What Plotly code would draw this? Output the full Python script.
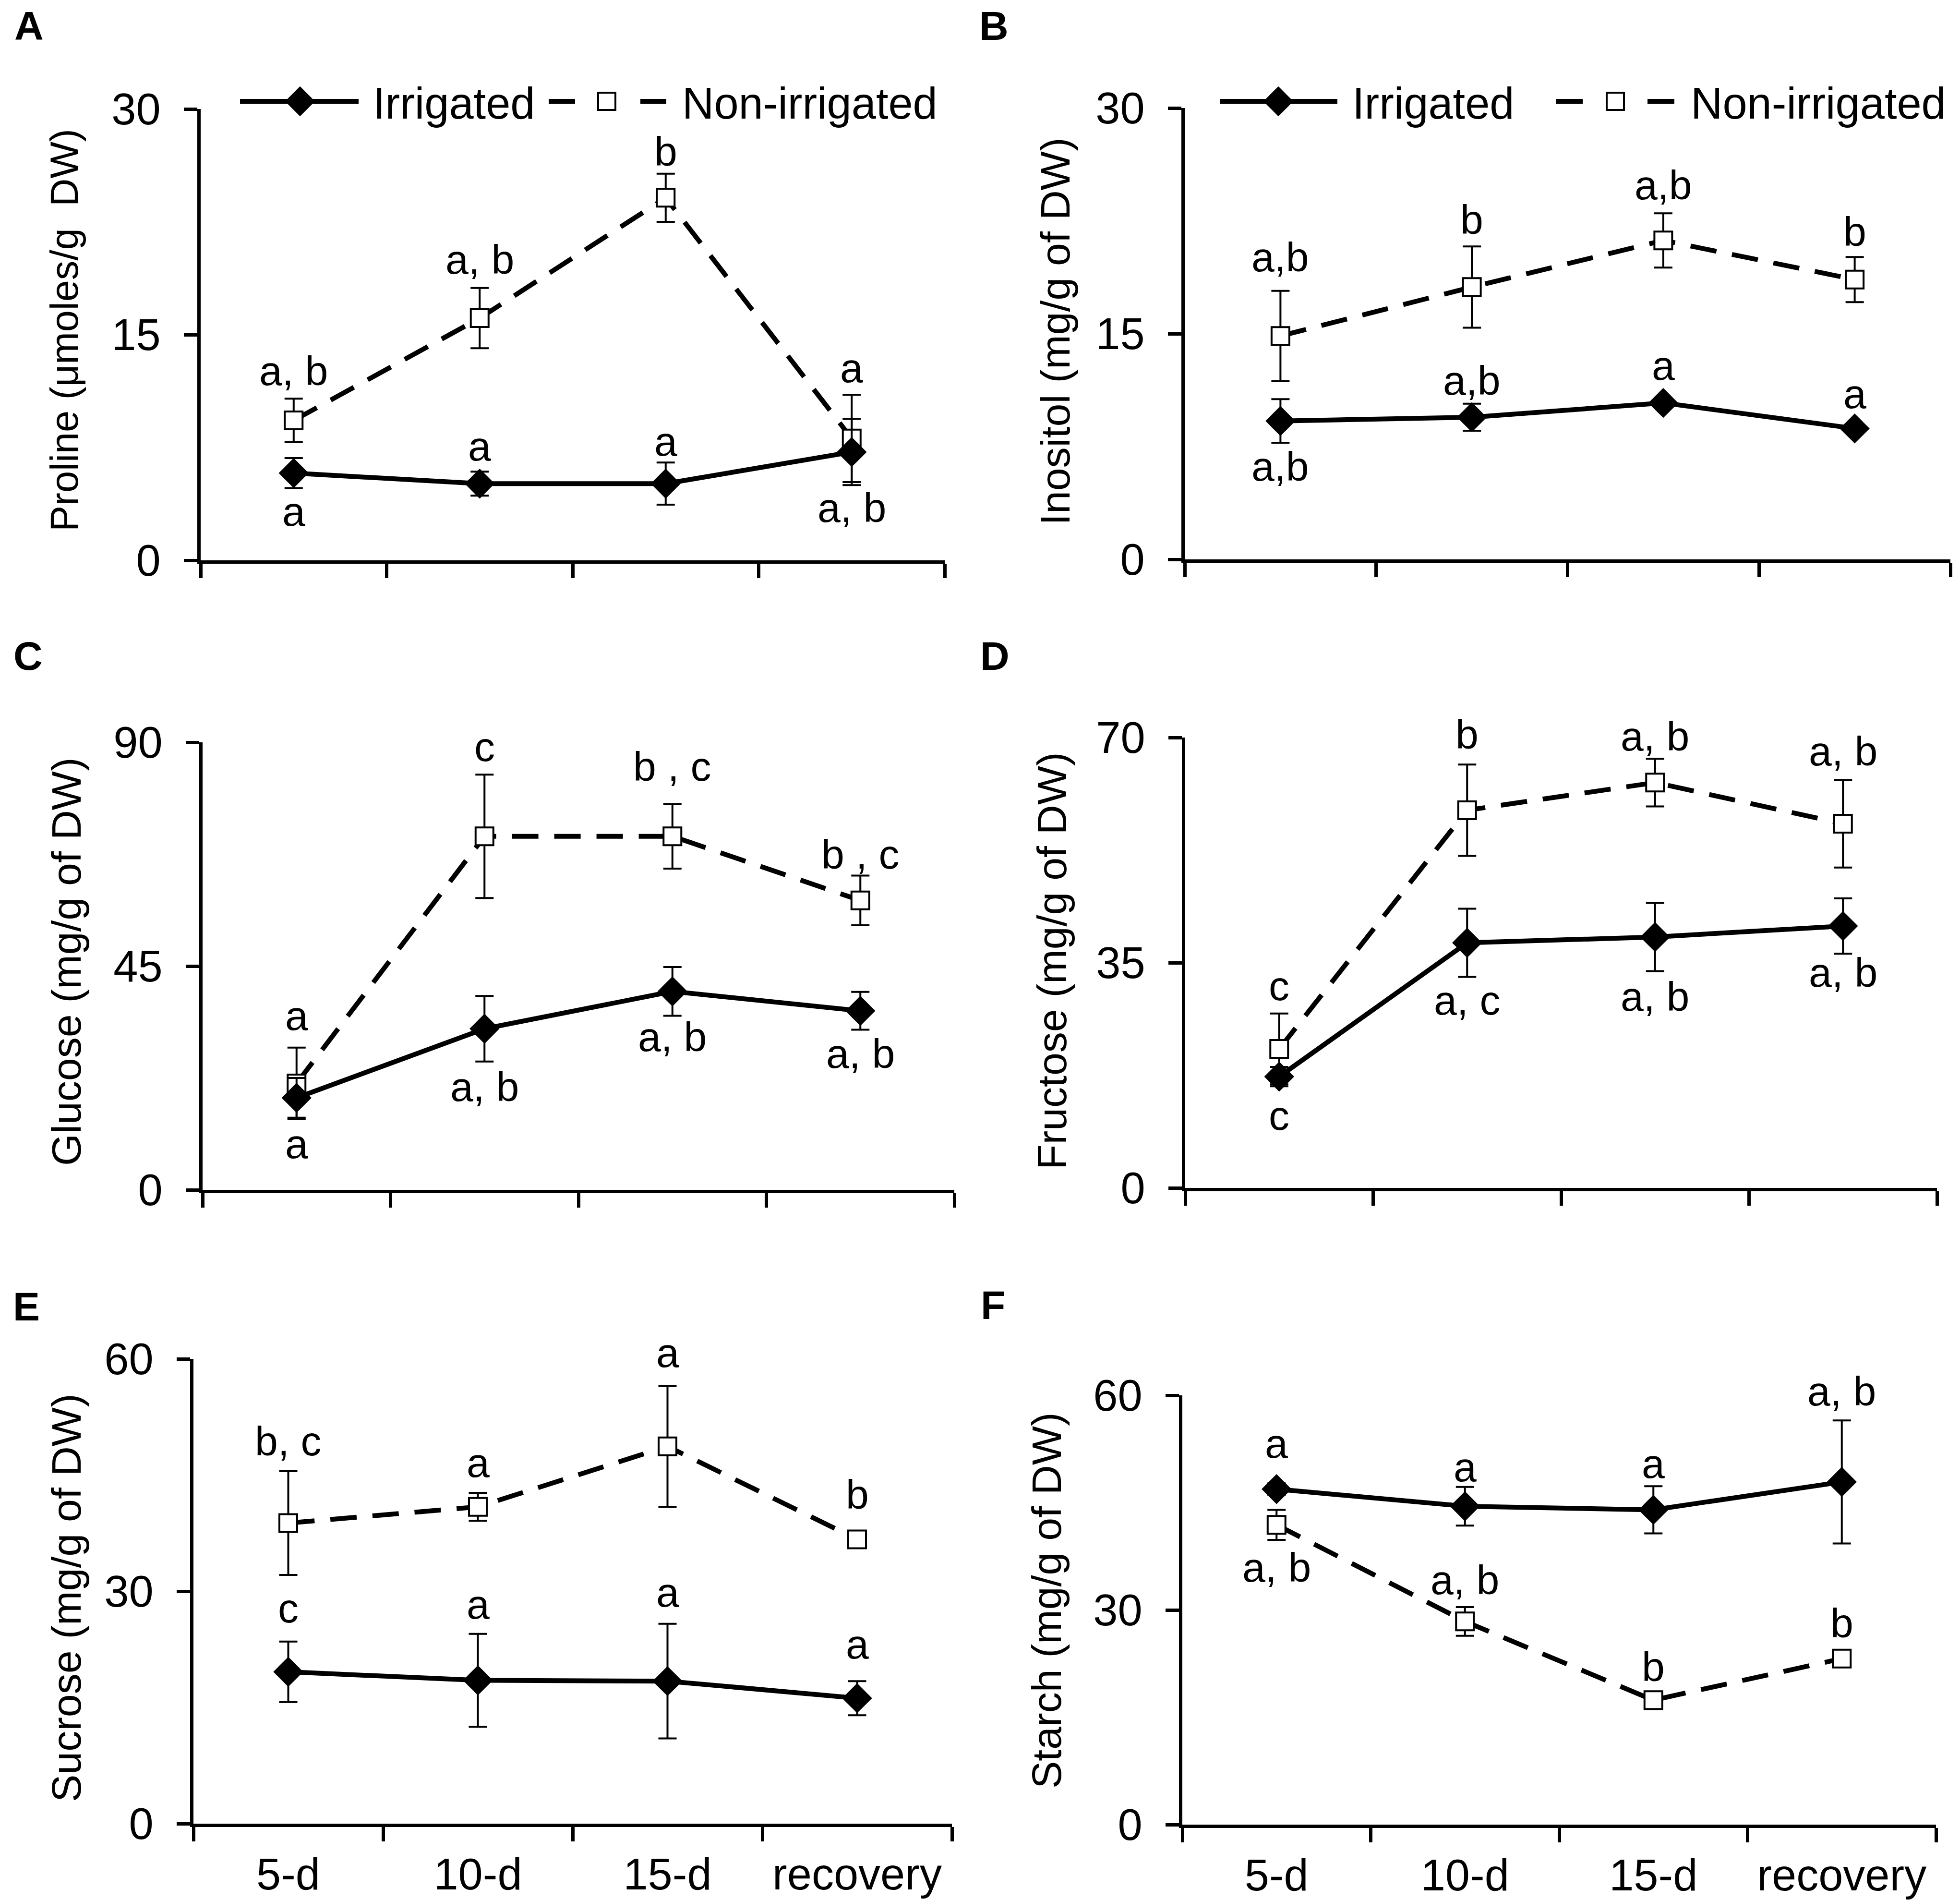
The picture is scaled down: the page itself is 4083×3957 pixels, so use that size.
import plotly.graph_objects as go

W, H = 4083, 3957
FONT = "Liberation Sans, Arial, sans-serif"

categories = ["5-d", "10-d", "15-d", "recovery"]

# ---------------- data ----------------
proline_irr = [5.8, 5.1, 5.1, 7.2]
proline_irr_err = [1.0, 0.8, 1.4, 2.2]
proline_non = [9.3, 16.1, 24.1, 8.1]
proline_non_err = [1.45, 2.0, 1.6, 2.9]
proline_irr_lbl = ["a", "a", "a", "a, b"]
proline_irr_lbl_y = [3.25, 7.6, 7.9, 3.5]
proline_non_lbl = ["a, b", "a, b", "b", "a"]
proline_non_lbl_y = [12.6, 20.0, 27.2, 12.8]

inositol_irr = [9.2, 9.45, 10.4, 8.7]
inositol_irr_err = [1.45, 0.9, 0.3, 0.3]
inositol_non = [14.85, 18.1, 21.2, 18.6]
inositol_non_err = [3.0, 2.7, 1.8, 1.5]
inositol_irr_lbl = ["a,b", "a,b", "a", "a"]
inositol_irr_lbl_y = [6.2, 11.9, 12.9, 11.0]
inositol_non_lbl = ["a,b", "b", "a,b", "b"]
inositol_non_lbl_y = [20.1, 22.6, 24.9, 21.8]

glucose_irr = [18.5, 32.4, 39.9, 36.0]
glucose_irr_err = [4.0, 6.6, 4.9, 3.8]
glucose_non = [21.4, 71.1, 71.1, 58.2]
glucose_non_err = [7.2, 12.4, 6.5, 5.0]
glucose_irr_lbl = ["a", "a, b", "a, b", "a, b"]
glucose_irr_lbl_y = [9.3, 20.8, 30.8, 27.4]
glucose_non_lbl = ["a", "c", "b , c", "b , c"]
glucose_non_lbl_y = [35.1, 89.1, 85.2, 67.5]

fructose_irr = [17.3, 38.1, 39.0, 40.7]
fructose_irr_err = [1.5, 5.3, 5.3, 4.3]
fructose_non = [21.6, 58.7, 63.0, 56.6]
fructose_non_err = [5.5, 7.1, 3.7, 6.8]
fructose_irr_lbl = ["c", "a, c", "a, b", "a, b"]
fructose_irr_lbl_y = [11.3, 29.2, 29.8, 33.5]
fructose_non_lbl = ["c", "b", "a, b", "a, b"]
fructose_non_lbl_y = [31.4, 70.5, 70.2, 67.9]

sucrose_irr = [19.6, 18.5, 18.4, 16.2]
sucrose_irr_err = [3.9, 6.0, 7.4, 2.2]
sucrose_non = [38.8, 40.9, 48.7, 36.7]
sucrose_non_err = [6.7, 1.8, 7.8, 0.8]
sucrose_irr_lbl = ["c", "a", "a", "a"]
sucrose_irr_lbl_y = [27.8, 28.3, 29.9, 23.2]
sucrose_non_lbl = ["b, c", "a", "a", "b"]
sucrose_non_lbl_y = [49.4, 46.6, 60.8, 42.5]

starch_irr = [46.9, 44.5, 44.0, 47.9]
starch_irr_err = [0.8, 2.7, 3.3, 8.6]
starch_non = [41.9, 28.4, 17.4, 23.2]
starch_non_err = [2.1, 2.0, 0.6, 0.6]
starch_irr_lbl = ["a", "a", "a", "a, b"]
starch_irr_lbl_y = [53.3, 50.0, 50.5, 60.6]
starch_non_lbl = ["a, b", "a, b", "b", "b"]
starch_non_lbl_y = [36.0, 34.2, 22.1, 28.2]

y_titles = ["Proline (\u03bcmoles/g \u00a0DW)", "Inositol (mg/g of DW)",
            "Glucose (mg/g of DW)", "Fructose (mg/g of DW)",
            "Sucrose (mg/g of DW)", "Starch (mg/g of DW)"]
y_max = [30, 30, 90, 70, 60, 60]
panel_letters = ["A", "B", "C", "D", "E", "F"]
series_names = ["Irrigated", "Non-irrigated"]

panels = [
    (proline_irr, proline_irr_err, proline_non, proline_non_err,
     proline_irr_lbl, proline_irr_lbl_y, proline_non_lbl, proline_non_lbl_y),
    (inositol_irr, inositol_irr_err, inositol_non, inositol_non_err,
     inositol_irr_lbl, inositol_irr_lbl_y, inositol_non_lbl, inositol_non_lbl_y),
    (glucose_irr, glucose_irr_err, glucose_non, glucose_non_err,
     glucose_irr_lbl, glucose_irr_lbl_y, glucose_non_lbl, glucose_non_lbl_y),
    (fructose_irr, fructose_irr_err, fructose_non, fructose_non_err,
     fructose_irr_lbl, fructose_irr_lbl_y, fructose_non_lbl, fructose_non_lbl_y),
    (sucrose_irr, sucrose_irr_err, sucrose_non, sucrose_non_err,
     sucrose_irr_lbl, sucrose_irr_lbl_y, sucrose_non_lbl, sucrose_non_lbl_y),
    (starch_irr, starch_irr_err, starch_non, starch_non_err,
     starch_irr_lbl, starch_irr_lbl_y, starch_non_lbl, starch_non_lbl_y),
]

# ---------------- layout geometry (pixels) ----------------
# (x_left, x_right, y_top, y_bottom) of each plot area
boxes = [(410, 1960, 219, 1159), (2460, 4055, 217, 1157),
         (414, 1980, 1538, 2470), (2461, 4027, 1528, 2466),
         (395, 1975, 2822, 3790), (2455, 4025, 2898, 3792)]
title_pos = [(126, 680), (2190, 682), (130, 1995), (2183, 1993),
             (130, 3320), (2172, 3325)]
title_size = [81, 86, 86, 86, 86, 86]
letter_pos = [(52, 46), (2062, 46), (50, 1358), (2064, 1358), (47, 2713), (2060, 2710)]


def pxx(x):
    return x / W


def pxy(y):
    return 1 - y / H


fig = go.Figure()
annotations = []
layout = {}

LW = 7
for k, (irr, irr_e, non, non_e, il, ily, nl, nly) in enumerate(panels):
    n = k + 1
    xs = "" if n == 1 else str(n)
    xa, ya = "x" + xs, "y" + xs
    x0, x1, yt, yb = boxes[k]
    bottom = k >= 4

    fig.add_trace(go.Scatter(
        x=categories, y=non, mode="lines+markers", name=series_names[1],
        xaxis=xa, yaxis=ya, showlegend=False, cliponaxis=False,
        line=dict(color="black", width=10, dash="55px,33px"),
        marker=dict(symbol="square", size=37, color="white",
                    line=dict(color="black", width=4)),
        error_y=dict(type="data", array=non_e, visible=True, color="black",
                     thickness=4, width=19)))
    fig.add_trace(go.Scatter(
        x=categories, y=irr, mode="lines+markers", name=series_names[0],
        xaxis=xa, yaxis=ya, showlegend=False, cliponaxis=False,
        line=dict(color="black", width=10),
        marker=dict(symbol="diamond", size=48, color="black",
                    line=dict(color="black", width=0)),
        error_y=dict(type="data", array=irr_e, visible=True, color="black",
                     thickness=4, width=19)))

    layout["xaxis" + xs] = dict(
        domain=[pxx(x0), pxx(x1)], anchor=ya, type="category",
        categoryorder="array", categoryarray=categories, range=[-0.5, 3.5],
        tickson="boundaries", ticks="outside", ticklen=30, tickwidth=LW,
        tickcolor="black", showline=True, linewidth=LW, linecolor="black",
        showgrid=False, zeroline=False, showticklabels=bottom,
        ticklabelstandoff=20, automargin=False,
        tickfont=dict(family=FONT, size=92, color="black"))
    layout["yaxis" + xs] = dict(
        domain=[pxy(yb), pxy(yt)], anchor=xa, range=[0, y_max[k]],
        tickvals=[0, y_max[k] / 2, y_max[k]], ticks="outside", ticklen=28,
        tickwidth=LW, tickcolor="black", showline=True, linewidth=LW,
        linecolor="black", showgrid=False, zeroline=False,
        ticklabelstandoff=30, automargin=False,
        tickfont=dict(family=FONT, size=92, color="black"))

    for i, c in enumerate(categories):
        for txt, yv in ((il[i], ily[i]), (nl[i], nly[i])):
            annotations.append(dict(
                x=c, y=yv / y_max[k], xref=xa, yref=ya + " domain",
                text=txt, showarrow=False, xanchor="center", yanchor="middle",
                font=dict(family=FONT, size=86, color="black")))

    tx, ty = title_pos[k]
    annotations.append(dict(
        x=pxx(tx), y=pxy(ty), xref="paper", yref="paper", text=y_titles[k],
        textangle=-90, showarrow=False, xanchor="center", yanchor="middle",
        font=dict(family=FONT, size=title_size[k], color="black")))
    lx, ly = letter_pos[k]
    annotations.append(dict(
        x=pxx(lx), y=pxy(ly), xref="paper", yref="paper",
        text="<b>" + panel_letters[k] + "</b>", showarrow=False,
        xanchor="center", yanchor="middle",
        font=dict(family=FONT, size=84, color="black")))

# ---------------- legends (panels A and B), drawn on a transparent pixel overlay axis ----------------
layout["xaxis7"] = dict(domain=[0, 1], range=[0, W], visible=False, anchor="y7",
                        fixedrange=True, automargin=False)
layout["yaxis7"] = dict(domain=[0, 1], range=[H, 0], visible=False, anchor="x7",
                        fixedrange=True, automargin=False)

legend_specs = [
    dict(s=(492, 739), d=617, t1=767, d1=(1135, 1190), d2=(1326, 1380), sq=1256, t2=1411),
    dict(s=(2533, 2778), d=2655, t1=2807, d1=(3233, 3289), d2=(3424, 3480), sq=3357, t2=3512),
]
LY = 203
for spec in legend_specs:
    fig.add_trace(go.Scatter(
        x=[spec["s"][0], spec["s"][1]], y=[LY, LY], mode="lines",
        line=dict(color="black", width=10), xaxis="x7", yaxis="y7",
        showlegend=False, hoverinfo="skip"))
    fig.add_trace(go.Scatter(
        x=[spec["d"]], y=[LY], mode="markers", xaxis="x7", yaxis="y7",
        marker=dict(symbol="diamond", size=48, color="black"),
        showlegend=False, hoverinfo="skip"))
    fig.add_trace(go.Scatter(
        x=[spec["d1"][0], spec["d1"][1], None, spec["d2"][0], spec["d2"][1]],
        y=[LY, LY, None, LY, LY], mode="lines",
        line=dict(color="black", width=10), xaxis="x7", yaxis="y7",
        showlegend=False, hoverinfo="skip"))
    fig.add_trace(go.Scatter(
        x=[spec["sq"]], y=[LY], mode="markers", xaxis="x7", yaxis="y7",
        marker=dict(symbol="square", size=36, color="white",
                    line=dict(color="black", width=4)),
        showlegend=False, hoverinfo="skip"))
    for tx, txt in ((spec["t1"], series_names[0]), (spec["t2"], series_names[1])):
        annotations.append(dict(
            x=pxx(tx), y=pxy(LY + 4), xref="paper", yref="paper", text=txt,
            showarrow=False, xanchor="left", yanchor="middle",
            font=dict(family=FONT, size=92, color="black")))

fig.update_layout(
    width=W, height=H, margin=dict(l=0, r=0, t=0, b=0, autoexpand=False),
    paper_bgcolor="white", plot_bgcolor="rgba(0,0,0,0)", showlegend=False,
    annotations=annotations, **layout)

fig.write_html("out.html")
